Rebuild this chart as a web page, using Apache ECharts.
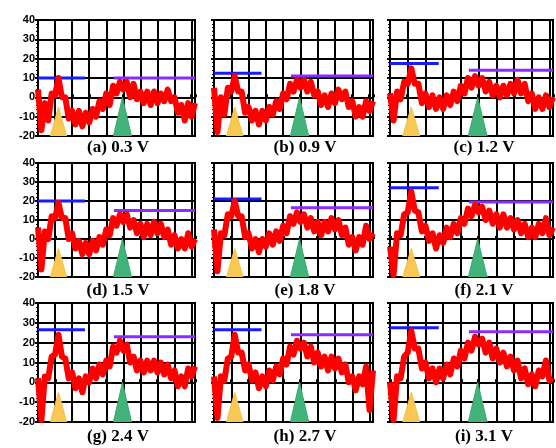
<!DOCTYPE html>
<html>
<head>
<meta charset="utf-8">
<script src="https://cdn.jsdelivr.net/npm/echarts@6/dist/echarts.min.js"></script>
<style>
  html, body { margin: 0; padding: 0; background: #fff; }
  #main { width: 556px; height: 448px; }
</style>
</head>
<body>
<div id="main"></div>
<script>
// x positions (grid units), shared by every panel
var xs = [0,0.2,0.4,0.6,0.8,1,1.2,1.4,1.6,1.8,2,2.2,2.4,2.6,2.8,3,3.2,3.4,3.6,3.8,4,4.2,4.4,4.6,4.8,5,5.2,5.4,5.6,5.8,6,6.2,6.4,6.6,6.8,7,7.2,7.4,7.6,7.8,8,8.2,8.4,8.6,8.8,9,9.2];

var labels = ['(a) 0.3 V','(b) 0.9 V','(c) 1.2 V','(d) 1.5 V','(e) 1.8 V','(f) 2.1 V','(g) 2.4 V','(h) 2.7 V','(i) 3.1 V'];

// red traces, one per panel
var traceA = [4,-17,-3,-12,2,1,10,0,0,-11,-7,-14,-7,-15,-8,-13,-6,-10,-2,-6,2,-4,6,2,8,4,8,0,7,-1,3,-3,3,-4,3,-3,2,-2,4,-2,0,-8,-4,-12,-3,-10,-3];
var traceB = [5,-18,0,-9,5,3,11,3,3,-8,-5,-12,-7,-14,-7,-12,-5,-9,-2,-6,2,-1,7,3,9,5,9,3,8,1,3,-4,1,-5,2,-3,4,-1,3,-5,-2,-10,-5,-10,-2,-7,-2];
var traceC = [2,-12,3,-1,8,7,15,7,7,-3,2,-5,1,-6,0,-6,1,-4,3,-2,6,2,10,5,11,6,10,3,8,1,6,0,6,1,7,2,9,2,7,-2,2,-6,0,-6,1,-5,0];
var traceD = [6,-16,4,0,12,11,19,11,11,0,3,-5,-1,-8,-2,-8,-1,-6,1,-3,5,2,11,7,13,9,13,6,10,3,8,1,8,2,9,3,8,1,5,-3,2,-5,0,-5,3,-4,0];
var traceE = [5,-17,3,2,13,12,20,12,12,1,3,-5,0,-7,0,-4,3,-3,4,-1,7,3,12,8,14,9,13,6,11,4,9,2,9,4,11,5,10,2,6,-3,1,-6,1,-3,7,0,3];
var traceF = [-4,-19,3,2,13,14,25,15,14,4,7,-1,3,-5,2,-2,6,1,8,3,11,8,16,12,18,14,17,10,15,8,13,6,13,6,11,5,10,3,8,1,6,1,8,3,11,2,6];
var traceG = [2,-19,3,2,13,14,24,13,12,2,5,-3,2,-5,3,0,7,2,9,4,11,8,18,15,21,16,19,10,13,6,11,5,11,6,11,5,10,4,9,2,6,-2,3,-2,7,3,8];
var traceH = [3,-18,3,1,12,13,24,15,15,6,9,1,5,-3,3,-2,6,1,8,4,12,9,18,14,21,17,20,13,18,10,15,8,13,6,13,7,12,5,9,0,3,-4,3,-1,8,-14,6];
var traceI = [0,-19,3,2,13,15,26,17,17,7,10,2,7,0,7,2,9,4,12,8,16,12,20,16,23,19,22,15,20,12,17,10,15,8,13,6,11,2,7,-1,4,-2,6,3,11,1,2];
var traces = [traceA, traceB, traceC, traceD, traceE, traceF, traceG, traceH, traceI];

// levels of the blue (left) and purple (right) bars
var blueLevel = [10, 12.5, 17.5, 20, 21, 27, 26.5, 26.5, 27.5];
var purpleLevel = [10, 11, 14, 15, 16.5, 19.5, 23, 24, 25.5];
var blueSpan = [0, 2.75];
var purpleSpan = [4.45, 9.2];

// triangles: [left base, apex x, right base, apex y]
var yellowTri = [0.72, 1.2, 1.68, -5];
var greenTri = [4.42, 4.95, 5.48, 0];

var colLeft = [38, 214, 390];
var colWidth = [157, 159, 163];
var rowTop = [20, 163, 303];
var rowHeight = [116, 114, 119];
var labelX = [118, 305, 484];
var labelY = [148, 291, 437];

var grids = [], xAxes = [], yAxes = [], series = [], texts = [];

for (var k = 0; k < 9; k++) {
    var r = Math.floor(k / 3), c = k % 3;
    grids.push({
        left: colLeft[c], top: rowTop[r], width: colWidth[c], height: rowHeight[r],
        show: true, borderColor: '#000', borderWidth: 2, backgroundColor: '#fff'
    });
    xAxes.push({
        gridIndex: k, type: 'value', min: 0, max: 9.2, interval: 1,
        axisLine: { show: true, lineStyle: { color: '#000', width: 2 } },
        axisTick: { show: true, inside: true, length: 3, lineStyle: { color: '#000', width: 3 } },
        axisLabel: { show: false },
        splitLine: { show: true, lineStyle: { color: '#000', width: 2 } }
    });
    yAxes.push({
        gridIndex: k, type: 'value', min: -20, max: 40, interval: 10,
        axisLine: { show: true, lineStyle: { color: '#000', width: 2 } },
        axisTick: { show: true, length: 3, lineStyle: { color: '#000', width: 2 } },
        minorTick: { show: true, splitNumber: 5, length: 2, lineStyle: { color: '#000' } },
        axisLabel: {
            show: c === 0, color: '#000', fontWeight: 'bold', fontSize: 11,
            fontFamily: 'Liberation Sans', margin: 3
        },
        splitLine: { show: true, lineStyle: { color: '#000', width: 2 } }
    });

    var pts = xs.map(function (x, i) { return [x, traces[k][i]]; });

    series.push({
        type: 'line', xAxisIndex: k, yAxisIndex: k, z: 2,
        data: [[blueSpan[0], blueLevel[k]], [blueSpan[1], blueLevel[k]]],
        showSymbol: false, lineStyle: { color: '#1a1aff', width: 3 }
    });
    series.push({
        type: 'line', xAxisIndex: k, yAxisIndex: k, z: 2,
        data: [[purpleSpan[0], purpleLevel[k]], [purpleSpan[1], purpleLevel[k]]],
        showSymbol: false, lineStyle: { color: '#8a2cff', width: 3 }
    });
    series.push({
        type: 'line', xAxisIndex: k, yAxisIndex: k, z: 3,
        data: pts, showSymbol: false,
        lineStyle: { color: '#ff0000', width: 6, join: 'round' }
    });
    series.push({
        type: 'line', xAxisIndex: k, yAxisIndex: k, z: 4,
        data: [[yellowTri[0], -20], [yellowTri[1], yellowTri[3]], [yellowTri[2], -20]],
        showSymbol: false, lineStyle: { color: '#f5c04a', width: 1 },
        areaStyle: { color: '#f8c852', opacity: 1, origin: 'start' }
    });
    series.push({
        type: 'line', xAxisIndex: k, yAxisIndex: k, z: 4,
        data: [[greenTri[0], -20], [greenTri[1], greenTri[3]], [greenTri[2], -20]],
        showSymbol: false, lineStyle: { color: '#3aa86e', width: 1 },
        areaStyle: { color: '#42b479', opacity: 1, origin: 'start' }
    });

    texts.push({
        type: 'text', x: labelX[c], y: labelY[r],
        style: {
            text: labels[k], fill: '#000', font: 'bold 17px "Liberation Serif"',
            textAlign: 'center', textVerticalAlign: 'middle'
        }
    });
}

var myChart = echarts.init(document.getElementById('main'));
myChart.setOption({
    animation: false,
    backgroundColor: '#fff',
    grid: grids,
    xAxis: xAxes,
    yAxis: yAxes,
    series: series,
    graphic: texts
});
</script>
</body>
</html>
